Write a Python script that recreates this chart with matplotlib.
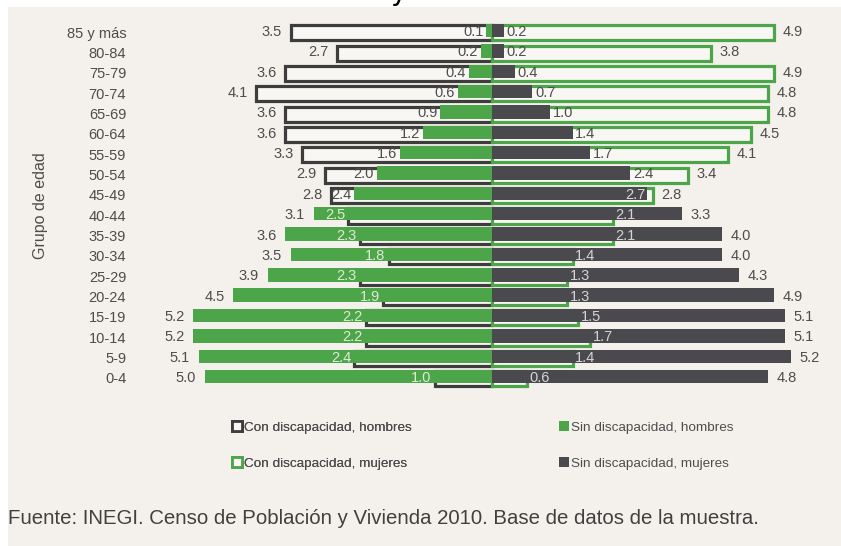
import matplotlib
matplotlib.use("Agg")
import matplotlib.pyplot as plt
from matplotlib.patches import Patch, Rectangle
import numpy as np

plt.rcParams['font.family'] = ['Liberation Sans', 'DejaVu Sans']

# age groups, bottom (0-4) to top (85 y más)
ages = ['0-4', '5-9', '10-14', '15-19', '20-24', '25-29', '30-34', '35-39', '40-44',
        '45-49', '50-54', '55-59', '60-64', '65-69', '70-74', '75-79', '80-84', '85 y más']
con_h = [1.0, 2.4, 2.2, 2.2, 1.9, 2.3, 1.8, 2.3, 2.5, 2.8, 2.9, 3.3, 3.6, 3.6, 4.1, 3.6, 2.7, 3.5]
sin_h = [5.0, 5.1, 5.2, 5.2, 4.5, 3.9, 3.5, 3.6, 3.1, 2.4, 2.0, 1.6, 1.2, 0.9, 0.6, 0.4, 0.2, 0.1]
con_m = [0.6, 1.4, 1.7, 1.5, 1.3, 1.3, 1.4, 2.1, 2.1, 2.8, 3.4, 4.1, 4.5, 4.8, 4.8, 4.9, 3.8, 4.9]
sin_m = [4.8, 5.2, 5.1, 5.1, 4.9, 4.3, 4.0, 4.0, 3.3, 2.7, 2.4, 1.7, 1.4, 1.0, 0.7, 0.4, 0.2, 0.2]

legend_labels = ['Con discapacidad, hombres', 'Con discapacidad, mujeres',
                 'Sin discapacidad, hombres', 'Sin discapacidad, mujeres']
fuente = 'Fuente: INEGI. Censo de Población y Vivienda 2010. Base de datos de la muestra.'

GREEN = '#4da549'
DARK = '#4a4a4e'
EDGE_H = '#3d3d3d'
WHITE = '#f8f7f3'
BG = '#f4f1ec'
TXT = '#4d4d4d'

W, H = 841, 546
fig = plt.figure(figsize=(W / 100, H / 100), dpi=100, facecolor='white')
fig.patches.append(Rectangle((8 / W, 0), 1, 1 - 7 / H, transform=fig.transFigure,
                             facecolor=BG, edgecolor='none', zorder=-10))

# axes placed so rows sit at the reference pixel positions
row_px = 20.35
y_top = 32 - 0.6 * row_px
y_bot = 378 + 0.6 * row_px
ax = fig.add_axes([147 / W, 1 - y_bot / H, 690 / W, (y_bot - y_top) / H])
ax.set_facecolor('none')

y = np.arange(len(ages))
ch = np.array(con_h)
sh = np.array(sin_h)
cm = np.array(con_m)
sm = np.array(sin_m)

# outlined bars (con discapacidad) behind, filled bars on top
ax.barh(y - 0.04, -ch, height=0.74, color=WHITE, edgecolor=EDGE_H, linewidth=2.3, zorder=2)
ax.barh(y - 0.04, cm, height=0.74, color=WHITE, edgecolor=GREEN, linewidth=2.3, zorder=2)
ax.barh(y + 0.07, -sh, height=0.66, color=GREEN, edgecolor='none', zorder=3)
ax.barh(y + 0.07, sm, height=0.66, color=DARK, edgecolor='none', zorder=3)

fs = 10.5
for i in range(len(ages)):
    # men
    big, small = max(ch[i], sh[i]), min(ch[i], sh[i])
    ax.text(-big - 0.15, i, f'{big:.1f}', ha='right', va='center', fontsize=fs, color=TXT, zorder=5)
    col = TXT if ch[i] > sh[i] else '#dcebd4'
    ax.text(-small - 0.05, i, f'{small:.1f}', ha='right', va='center', fontsize=fs, color=col, zorder=5)
    # women
    big, small = max(cm[i], sm[i]), min(cm[i], sm[i])
    ax.text(big + 0.15, i, f'{big:.1f}', ha='left', va='center', fontsize=fs, color=TXT, zorder=5)
    if big - small < 0.3:
        ax.text(small - 0.03, i, f'{small:.1f}', ha='right', va='center', fontsize=fs,
                color='#d8d8d8', zorder=5)
    else:
        col = TXT if cm[i] > sm[i] else '#d4d4d4'
        ax.text(small + 0.05, i, f'{small:.1f}', ha='left', va='center', fontsize=fs, color=col, zorder=5)

ax.set_xlim(-6, 6)
ax.set_ylim(-0.6, len(ages) - 0.4)
ax.set_yticks(y)
ax.set_yticklabels(ages, fontsize=fs, color=TXT)
ax.tick_params(axis='y', length=0, pad=15)
ax.set_xticks([])
for s in ax.spines.values():
    s.set_visible(False)

fig.text(40 / W, 1 - 206 / H, 'Grupo de edad', rotation=90, ha='center', va='center',
         fontsize=11.5, color=TXT)

# legend in two columns
h_con_h = Patch(facecolor=WHITE, edgecolor=EDGE_H, linewidth=2)
h_con_m = Patch(facecolor=WHITE, edgecolor=GREEN, linewidth=2)
h_sin_h = Patch(facecolor=GREEN, edgecolor='none')
h_sin_m = Patch(facecolor=DARK, edgecolor='none')
leg_kw = dict(frameon=False, fontsize=9.7, handlelength=0.7, handleheight=0.7,
              handletextpad=0.2, labelspacing=1.75, labelcolor=TXT, loc='upper left')
leg1 = fig.legend([h_con_h, h_con_m], legend_labels[:2],
                  bbox_to_anchor=(220 / W, 1 - 409 / H), **leg_kw)
fig.add_artist(leg1)
fig.legend([h_sin_h, h_sin_m], legend_labels[2:],
           bbox_to_anchor=(547 / W, 1 - 409 / H), **leg_kw)

fig.text(8 / W, 1 - 518 / H, fuente, ha='left', va='center', fontsize=14.7, color='#404040')

# cut-off title above the chart (only the descender shows, as in the source)
fig.text(398 / W, 1.0, 'y', ha='center', va='baseline', fontsize=20, color='black',
         family='DejaVu Sans')

plt.savefig('out.png', dpi=100, facecolor=fig.get_facecolor())
